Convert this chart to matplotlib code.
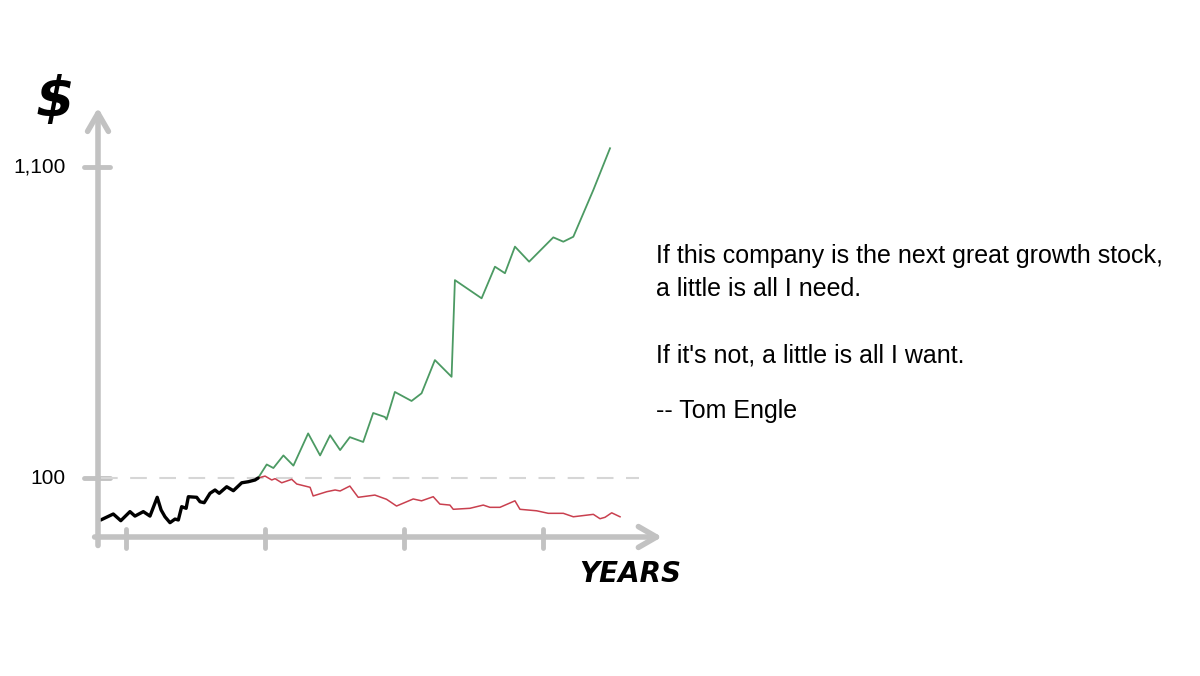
import numpy as np
import matplotlib.pyplot as plt
from matplotlib.transforms import blended_transform_factory

# ── Data (years, dollars; y on a log scale) ───────────────────────────────────
past_years = [0.10, 0.55, 0.82, 1.15, 1.33, 1.63, 1.87, 2.13, 2.27, 2.41, 2.59,
              2.77, 2.89, 3.01, 3.17, 3.25, 3.55, 3.67, 3.82, 4.03, 4.21, 4.36,
              4.63, 4.87, 5.17, 5.41, 5.65, 5.76]
past_value = [72.4, 75.8, 72.0, 77.2, 74.6, 77.2, 74.6, 86.2, 78.2, 74.2, 70.9,
              72.9, 72.4, 80.2, 79.2, 86.6, 86.2, 83.3, 82.7, 88.9, 91.2, 88.9,
              93.5, 90.7, 96.4, 97.2, 98.5, 100.0]

bull_years = [5.76, 6.07, 6.31, 6.67, 7.03, 7.56, 7.99, 8.35, 8.71, 9.06, 9.54,
              9.90, 10.32, 10.38, 10.68, 11.28, 11.64, 12.12, 12.72, 12.84, 13.80,
              14.28, 14.64, 15.00, 15.51, 16.38, 16.74, 17.10, 17.82, 18.42]
bull_value = [100, 111, 108, 119, 110, 141, 119, 139, 124, 137, 132,
              165, 160, 157, 194, 181, 192, 248, 218, 459, 399,
              509, 484, 594, 529, 638, 617, 641, 919, 1267]

bear_years = [5.76, 6.01, 6.25, 6.37, 6.61, 6.97, 7.15, 7.63, 7.74, 8.23, 8.53,
              8.71, 9.06, 9.36, 9.96, 10.38, 10.74, 11.34, 11.64, 12.06, 12.30,
              12.66, 12.78, 13.38, 13.86, 14.10, 14.46, 15.00, 15.18, 15.78, 16.20,
              16.74, 17.10, 17.82, 18.06, 18.24, 18.48, 18.78]
bear_value = [100, 101.5, 98.5, 99.5, 96.4, 99.0, 95.5, 93.1, 87.1, 90.0, 91.2,
              90.5, 94.0, 86.2, 87.7, 84.9, 80.6, 85.1, 83.9, 86.6, 81.8,
              81.2, 78.6, 79.2, 81.2, 79.8, 79.8, 83.9, 78.6, 77.7, 76.2,
              76.2, 74.2, 75.6, 73.1, 73.9, 76.5, 74.2]

year_ticks = [1, 6, 11, 16]
value_ticks = [100, 1100]
value_labels = ['100', '1,100']

quote = ["If this company is the next great growth stock,",
         "a little is all I need.",
         "If it's not, a little is all I want.",
         "-- Tom Engle"]

# ── Figure ────────────────────────────────────────────────────────────────────
plt.rcParams['font.family'] = ['Liberation Sans', 'DejaVu Sans']
W, H = 1200, 676
fig = plt.figure(figsize=(W / 100, H / 100), dpi=100)
ax = fig.add_axes([98 / W, 139 / H, 564 / W, 425 / H])
ax.set_yscale('log')
ax.set_xlim(0, 20.29)
ax.set_ylim(63.5, 1675)
ax.axis('off')

GREY = '#c2c2c2'

# hand-drawn style axes with open arrow heads
arrow = dict(arrowstyle='->,head_length=1.3,head_width=0.75',
             color=GREY, lw=4, capstyle='round', joinstyle='round',
             shrinkA=0, shrinkB=0)
ax.annotate('', xy=(0, 1.01), xytext=(0, -0.02), xycoords='axes fraction',
            arrowprops=arrow)
ax.annotate('', xy=(1.0, 0), xytext=(-0.006, 0), xycoords='axes fraction',
            arrowprops=arrow)

ty = blended_transform_factory(ax.transAxes, ax.transData)
tx = blended_transform_factory(ax.transData, ax.transAxes)
for v in value_ticks:
    ax.plot([-0.025, 0.021], [v, v], color=GREY, lw=3.5, transform=ty,
            clip_on=False, solid_capstyle='round')
for yr in year_ticks:
    ax.plot([yr, yr], [0.018, -0.026], color=GREY, lw=3.5, transform=tx,
            clip_on=False, solid_capstyle='round')
for v, lab in zip(value_ticks, value_labels):
    ax.text(-0.058, v, lab, transform=ty, ha='right', va='center', fontsize=15)

# reference level
ax.plot([0.005, 0.96], [100, 100], color='#d6d6d6', lw=1.5, ls=(0, (8, 6)),
        transform=ty)

# price paths
ax.plot(bull_years, bull_value, color='#4c9a63', lw=1.3)
ax.plot(bear_years, bear_value, color='#c9404f', lw=1.1)
ax.plot(past_years, past_value, color='black', lw=2.4, solid_capstyle='round')

# axis "labels"
fig.text(55 / W, 1 - 101 / H, '$', fontsize=40, fontweight='bold',
         fontstyle='italic', family='DejaVu Sans', ha='center', va='center')
fig.text(630 / W, 1 - 574 / H, 'YEARS', fontsize=20, fontweight='bold',
         fontstyle='italic', family='DejaVu Sans', ha='center', va='center')

# quote
for txt, py in zip(quote, [256, 289, 355, 411]):
    fig.text(656 / W, 1 - py / H, txt, fontsize=18, ha='left', va='center')

fig.savefig('out.png', dpi=100, facecolor='white')
